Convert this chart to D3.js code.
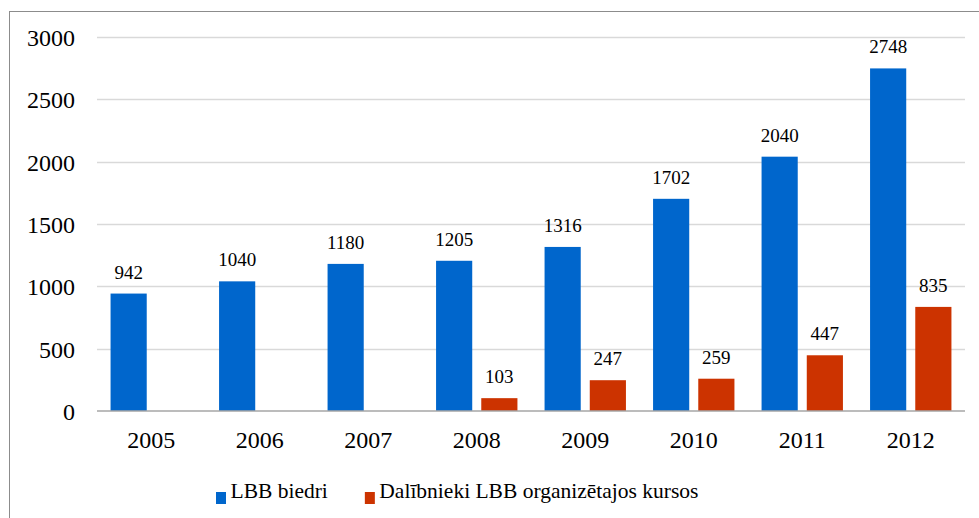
<!DOCTYPE html>
<html>
<head>
<meta charset="utf-8">
<script src="https://cdn.jsdelivr.net/npm/d3@7"></script>
<style>
  html, body { margin: 0; padding: 0; background: #fff; }
  svg { display: block; }
  svg text { font-family: "Liberation Serif", "Times New Roman", serif !important; fill: #000; }
</style>
</head>
<body>
<svg id="chart" width="979" height="518"></svg>
<script>
const categories = ["2005", "2006", "2007", "2008", "2009", "2010", "2011", "2012"];
const seriesNames = ["LBB biedri", "Dalībnieki LBB organizētajos kursos"];
const members = [942, 1040, 1180, 1205, 1316, 1702, 2040, 2748];
const participants = [null, null, null, 103, 247, 259, 447, 835];
const seriesColors = ["#0066CC", "#CC3300"];
const yTicks = [0, 500, 1000, 1500, 2000, 2500, 3000];

const svg = d3.select("#chart");

// outer frame (cropped at right/bottom like the reference)
svg.append("rect")
  .attr("x", 9.5).attr("y", 11.5)
  .attr("width", 1000).attr("height", 1000)
  .attr("fill", "none").attr("stroke", "#8c8c8c").attr("stroke-width", 1);

const x0 = d3.scaleBand().domain(categories).range([97, 965]).paddingInner(0.25).paddingOuter(0.125);
const x1 = d3.scaleBand().domain([0, 1]).range([0, x0.bandwidth()]).paddingInner(0.2);
const y = d3.scaleLinear().domain([0, 3000]).range([411, 37]);

// gridlines
svg.append("g").selectAll("line").data(yTicks.filter(d => d > 0)).join("line")
  .attr("x1", 97).attr("x2", 965)
  .attr("y1", d => Math.round(y(d)) + 0.5).attr("y2", d => Math.round(y(d)) + 0.5)
  .attr("stroke", "#d9d9d9").attr("stroke-width", 1.5);

// y axis labels
const yAxis = d3.axisLeft(y).tickValues(yTicks).tickFormat(d3.format("d")).tickSize(0).tickPadding(22);
const gy = svg.append("g").attr("transform", "translate(97,0)").call(yAxis);
gy.select(".domain").remove();
gy.selectAll("text").style("font-size", "24px").attr("dy", "0.36em");

// bars
const data = [members, participants];
data.forEach((vals, si) => {
  const g = svg.append("g");
  const pts = categories.map((c, i) => ({ c, v: vals[i] })).filter(d => d.v != null);
  g.selectAll("rect").data(pts).join("rect")
    .attr("x", d => x0(d.c) + x1(si))
    .attr("width", x1.bandwidth())
    .attr("y", d => y(d.v))
    .attr("height", d => y(0) - y(d.v))
    .attr("fill", seriesColors[si]);
  g.selectAll("text").data(pts).join("text")
    .attr("x", d => x0(d.c) + x1(si) + x1.bandwidth() / 2)
    .attr("y", d => y(d.v) - 15)
    .attr("text-anchor", "middle")
    .style("font-size", "19px")
    .text(d => d.v);
});

// x axis
const xAxis = d3.axisBottom(x0).tickSize(0).tickPadding(20);
const gx = svg.append("g").attr("transform", "translate(0,411)").call(xAxis);
gx.select(".domain").attr("stroke", "#a6a6a6").attr("stroke-width", 1.5)
  .attr("d", "M97,0H965");
gx.selectAll("text").style("font-size", "24px");

// legend
const leg = svg.append("g");
let lx = 216;
seriesNames.forEach((name, i) => {
  leg.append("rect").attr("x", lx).attr("y", 492).attr("width", 10).attr("height", 12)
    .attr("fill", seriesColors[i]);
  const t = leg.append("text").attr("x", lx + 14.5).attr("y", 498)
    .style("font-size", "21.5px")
    .text(name);
  const w = t.node().getComputedTextLength();
  lx = lx + 14.5 + w + 37;
});
</script>
</body>
</html>
